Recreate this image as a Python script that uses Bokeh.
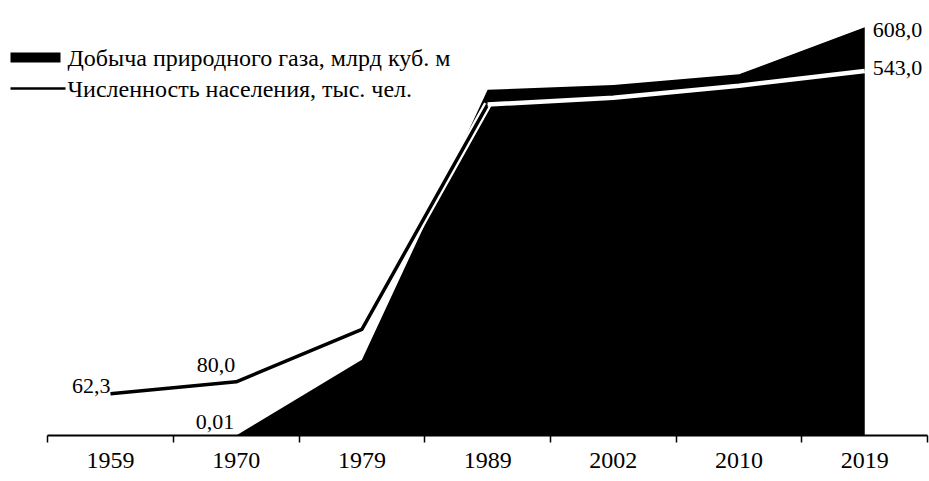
from bokeh.plotting import figure
from bokeh.models import FixedTicker, Label, BoxAnnotation, Range1d
from bokeh.embed import file_html
from bokeh.resources import INLINE
from bokeh.core.properties import value

# ---- data ----
years = ["1959", "1970", "1979", "1989", "2002", "2010", "2019"]
gas = [None, 0.01, 113.0, 515.0, 522.0, 538.0, 608.0]          # млрд куб. м
population = [62.3, 80.0, 158.0, 493.0, 503.0, 521.0, 543.0]   # тыс. чел.
gas_label_idx = [1, 6]
gas_label_text = ["0,01", "608,0"]
pop_label_idx = [0, 1, 6]
pop_label_text = ["62,3", "80,0", "543,0"]
legend_gas = "Добыча природного газа, млрд куб. м"
legend_pop = "Численность населения, тыс. чел."

SERIF = "Liberation Serif"
W, HFIG, BOTTOM = 929, 481, 46
H = HFIG - BOTTOM

idx = list(range(len(years)))

p = figure(width=W, height=HFIG, output_backend="svg", toolbar_location=None,
           x_range=Range1d(-0.875, 6.515), y_range=Range1d(0, 648),
           min_border_left=0, min_border_right=0, min_border_top=0,
           min_border_bottom=BOTTOM, y_axis_location=None)
p.outline_line_color = None
p.xgrid.visible = False
p.ygrid.visible = False
p.background_fill_color = "white"
p.border_fill_color = "white"

# gas area
gx = [i for i, g in zip(idx, gas) if g is not None]
gy = [g for g in gas if g is not None]
p.varea(x=gx, y1=[0] * len(gx), y2=gy, fill_color="black")

# population line: black outside the area (with white halo), white inside it
p.line(idx[:4], population[:4], line_color="white", line_width=8)
p.line(idx[:4], population[:4], line_color="black", line_width=3.5)
p.line(idx[3:], population[3:], line_color="white", line_width=4.5)

# data labels
font = value(SERIF)
def lab(i, v, t, align, xo, yo):
    p.text(x=[i], y=[v], text=[t], text_font=font, text_font_size="22px",
           text_color="black", text_align=align, text_baseline="alphabetic",
           x_offset=xo, y_offset=yo)

lab(pop_label_idx[0], population[pop_label_idx[0]], pop_label_text[0], "right", 0, -8)
lab(pop_label_idx[1], population[pop_label_idx[1]], pop_label_text[1], "right", -1, -17)
lab(pop_label_idx[2], population[pop_label_idx[2]], pop_label_text[2], "left", 8, -3)
lab(gas_label_idx[0], gas[gas_label_idx[0]], gas_label_text[0], "right", -2, -13)
lab(gas_label_idx[1], gas[gas_label_idx[1]], gas_label_text[1], "left", 8, 3)

# x axis
ax = p.xaxis[0]
ax.ticker = FixedTicker(ticks=idx, minor_ticks=[i - 0.5 for i in range(len(years) + 1)])
ax.major_label_overrides = {i: y for i, y in zip(idx, years)}
ax.bounds = (-0.5, len(years) - 0.5)
ax.axis_line_color = "black"
ax.axis_line_width = 2
ax.major_tick_out = 0
ax.major_tick_in = 0
ax.minor_tick_out = 7
ax.minor_tick_in = 0
ax.minor_tick_line_color = "black"
ax.minor_tick_line_width = 1.5
ax.major_label_standoff = 10
ax.major_label_text_font = SERIF
ax.major_label_text_font_size = "24px"
ax.major_label_text_color = "black"

# legend (drawn manually, screen units from frame bottom)
def box(l, r, t, b):
    p.add_layout(BoxAnnotation(left=l, right=r, top=H - t, bottom=H - b,
                               left_units="screen", right_units="screen",
                               top_units="screen", bottom_units="screen",
                               fill_color="black", fill_alpha=1, line_color=None))
box(10, 60, 52, 62)
box(10, 65, 86.8, 89.2)
p.add_layout(Label(x=67, y=H - 57, x_units="screen", y_units="screen", text=legend_gas,
                   text_font=SERIF, text_font_size="24px", text_color="black",
                   text_baseline="middle"))
p.add_layout(Label(x=67, y=H - 88, x_units="screen", y_units="screen", text=legend_pop,
                   text_font=SERIF, text_font_size="24px", text_color="black",
                   text_baseline="middle"))

open("out.html", "w").write(file_html(p, INLINE))
